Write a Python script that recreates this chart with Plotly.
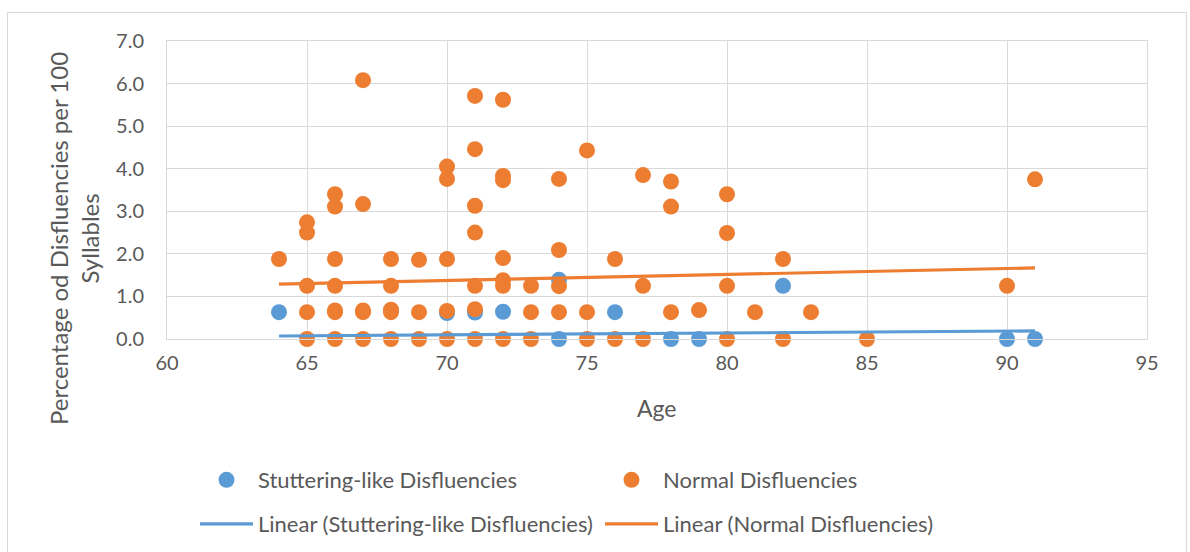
import plotly.graph_objects as go

# ---- data ----
sld_age = [64, 70, 71, 72, 74, 74, 76, 78, 79, 82, 90, 91]
sld_val = [0.63, 0.61, 0.62, 0.64, 1.39, 0.0, 0.63, 0.0, 0.0, 1.25, 0.0, 0.0]

nd_age = [64,
          65, 65, 65, 65, 65,
          66, 66, 66, 66, 66, 66, 66,
          67, 67, 67, 67, 67,
          68, 68, 68, 68, 68,
          69, 69, 69,
          70, 70, 70, 70, 70,
          71, 71, 71, 71, 71, 71, 71,
          72, 72, 72, 72, 72, 72, 72,
          73, 73, 73,
          74, 74, 74, 74,
          75, 75, 75,
          76, 76,
          77, 77, 77,
          78, 78, 78,
          79,
          80, 80, 80, 80,
          81,
          82, 82,
          83,
          85,
          90,
          91]
nd_val = [1.88,
          2.74, 2.50, 1.25, 0.63, 0.0,
          3.40, 3.11, 1.88, 1.25, 0.67, 0.63, 0.0,
          6.08, 3.17, 0.67, 0.63, 0.0,
          1.88, 1.25, 0.69, 0.63, 0.0,
          1.86, 0.63, 0.0,
          4.05, 3.76, 1.88, 0.66, 0.0,
          5.71, 4.46, 3.13, 2.50, 1.25, 0.70, 0.0,
          5.62, 3.83, 3.73, 1.90, 1.38, 1.25, 0.0,
          1.25, 0.63, 0.0,
          3.76, 2.09, 1.24, 0.63,
          4.43, 0.63, 0.0,
          1.88, 0.0,
          3.85, 1.25, 0.0,
          3.70, 3.11, 0.63,
          0.68,
          3.40, 2.49, 1.25, 0.0,
          0.63,
          1.88, 0.0,
          0.63,
          0.0,
          1.25,
          3.75]

trend_age = [64, 91]
trend_sld = [0.07, 0.19]
trend_nd = [1.29, 1.67]

x_ticks = [60, 65, 70, 75, 80, 85, 90, 95]
y_ticks = [0, 1, 2, 3, 4, 5, 6, 7]

BLUE = "#5B9BD5"
ORANGE = "#ED7D31"
GRID = "#D9D9D9"
TXT = "#595959"
FONT = "Lato"

W, H = 1190, 552
L, R, T, B = 167, 43, 41, 213
PW, PH = W - L - R, H - T - B


def px_x(p):
    return (p - L) / PW


def px_y(p):
    return (H - B - p) / PH


fig = go.Figure()
fig.add_trace(go.Scatter(x=sld_age, y=sld_val, mode="markers", name="Stuttering-like Disfluencies",
                         marker=dict(color=BLUE, size=16), legend="legend", cliponaxis=False))
fig.add_trace(go.Scatter(x=nd_age, y=nd_val, mode="markers", name="Normal Disfluencies",
                         marker=dict(color=ORANGE, size=16), legend="legend", cliponaxis=False))
fig.add_trace(go.Scatter(x=trend_age, y=trend_sld, mode="lines", name="Linear (Stuttering-like Disfluencies)",
                         line=dict(color=BLUE, width=3.2), legend="legend2", cliponaxis=False))
fig.add_trace(go.Scatter(x=trend_age, y=trend_nd, mode="lines", name="Linear (Normal Disfluencies)",
                         line=dict(color=ORANGE, width=3.2), legend="legend2", cliponaxis=False))

axis_common = dict(showgrid=True, gridcolor=GRID, gridwidth=1, showline=True, linecolor=GRID,
                   linewidth=1, zeroline=False, ticks="", tickfont=dict(family=FONT, size=20, color=TXT),
                   mirror=True)

fig.update_xaxes(range=[60, 95], tickvals=x_ticks, ticklabelstandoff=6, **axis_common)
fig.update_yaxes(range=[0, 7], tickvals=y_ticks, tickformat=".1f", ticklabelstandoff=18, **axis_common)

leg_common = dict(orientation="h", xanchor="left", yanchor="middle", bgcolor="rgba(0,0,0,0)",
                  font=dict(family=FONT, size=22, color=TXT), itemwidth=53, entrywidth=337,
                  itemclick=False)

fig.update_layout(
    width=W, height=H,
    margin=dict(l=L, r=R, t=T, b=B, autoexpand=False),
    paper_bgcolor="white", plot_bgcolor="white",
    showlegend=True,
    legend=dict(x=px_x(195), y=px_y(480), **leg_common),
    legend2=dict(x=px_x(195), y=px_y(524), **leg_common),
    annotations=[
        dict(text="Percentage od Disfluencies per 100<br>Syllables", x=px_x(74), y=px_y(239),
             xref="paper", yref="paper", showarrow=False, textangle=-90,
             font=dict(family=FONT, size=24, color=TXT), xanchor="center", yanchor="middle"),
        dict(text="Age", x=px_x(657), y=px_y(408), xref="paper", yref="paper", showarrow=False,
             font=dict(family=FONT, size=23, color=TXT), xanchor="center", yanchor="middle"),
    ],
    shapes=[
        dict(type="rect", xref="paper", yref="paper", x0=px_x(7.5), x1=px_x(1186.5),
             y0=px_y(600), y1=px_y(12.5), line=dict(color=GRID, width=1), fillcolor="rgba(0,0,0,0)",
             layer="below"),
    ],
)

fig.write_html("out.html", post_script="document.body.style.margin='0px';",
               config={"displayModeBar": False})
